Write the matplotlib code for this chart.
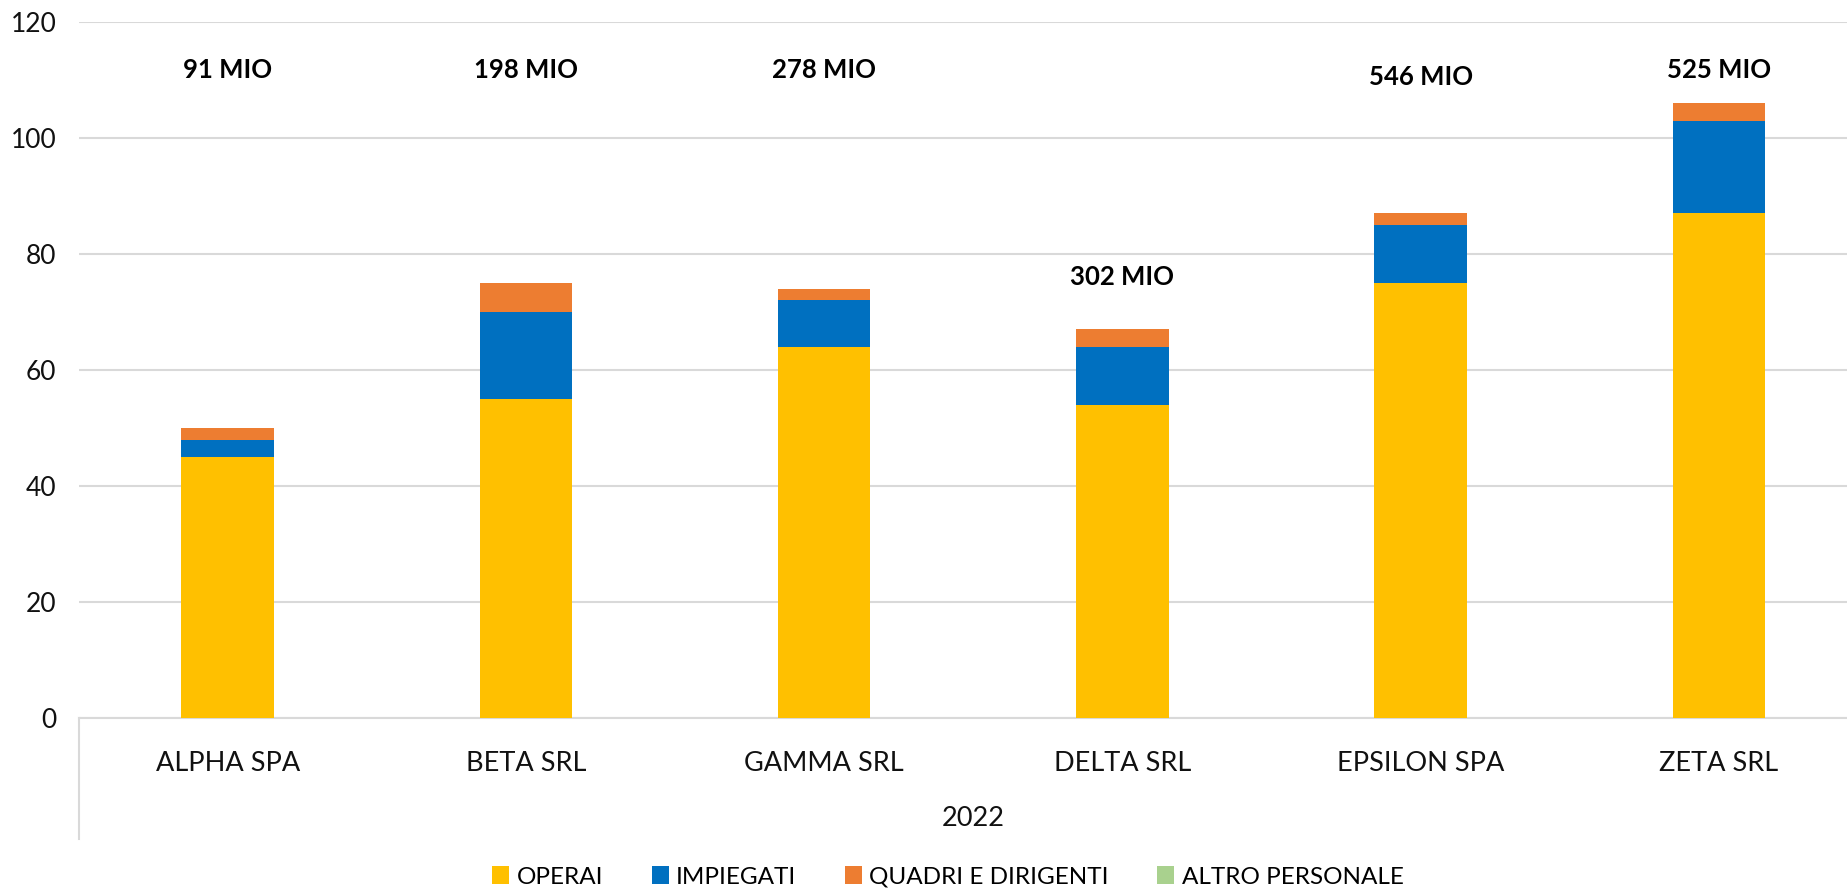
import numpy as np
import matplotlib
matplotlib.use("Agg")
import matplotlib.pyplot as plt
from matplotlib.lines import Line2D

plt.rcParams['font.family'] = ['Lato', 'DejaVu Sans']

# --- Data ---
companies = ["ALPHA SPA", "BETA SRL", "GAMMA SRL", "DELTA SRL", "EPSILON SPA", "ZETA SRL"]
operai = [45, 55, 64, 54, 75, 87]
impiegati = [3, 15, 8, 10, 10, 16]
quadri = [2, 5, 2, 3, 2, 3]
altro = [0, 0, 0, 0, 0, 0]
fatturato = ["91 MIO", "198 MIO", "278 MIO", "302 MIO", "546 MIO", "525 MIO"]
label_y = [111.7, 111.7, 111.7, 76, 110.5, 111.7]
year = "2022"

series = [
    ("OPERAI", operai, "#FFC000"),
    ("IMPIEGATI", impiegati, "#0070C0"),
    ("QUADRI E DIRIGENTI", quadri, "#ED7D31"),
    ("ALTRO PERSONALE", altro, "#A9D18E"),
]

W, H = 1847, 890
fig = plt.figure(figsize=(W / 100, H / 100), dpi=100)
# plot area (pixel coords from the reference); right side is cut off
left, right, top, bottom = 78.5, 1868, 22, 718
ax = fig.add_axes([left / W, 1 - bottom / H, (right - left) / W, (bottom - top) / H])

x = np.arange(len(companies))
base = np.zeros(len(companies))
handles = []
for name, vals, col in series:
    b = ax.bar(x, vals, width=0.31, bottom=base, color=col, label=name, zorder=3)
    handles.append(b)
    base += np.array(vals)

for i, txt in enumerate(fatturato):
    ax.text(x[i], label_y[i], txt, ha="center", va="center",
            fontsize=18.5, fontweight="bold", color="black", zorder=4)

ax.set_xlim(-0.5, len(companies) - 0.5)
ax.set_ylim(0, 120)
ax.set_yticks(np.arange(0, 121, 20))
ax.yaxis.grid(True, color="#D9D9D9", linewidth=1.5, zorder=0)
ax.set_axisbelow(True)
for s in ["top", "right", "left"]:
    ax.spines[s].set_visible(False)
ax.spines["bottom"].set_color("#D9D9D9")
ax.spines["bottom"].set_linewidth(1.5)
ax.tick_params(axis="y", length=0, labelsize=19, pad=16, labelcolor="#111111")
ax.set_xticks(x)
ax.set_xticklabels(companies)
ax.tick_params(axis="x", length=0, labelsize=19.5, pad=24, labelcolor="#111111")

# outer category level line and label
fig.add_artist(Line2D([left / W, left / W], [1 - bottom / H, 1 - 839 / H],
                      color="#D9D9D9", linewidth=1.5))
fig.text(973 / W, 1 - 818 / H, year, ha="center", va="center", fontsize=19.5, color="#111111")

fig.legend(handles=handles, loc="center", bbox_to_anchor=(948 / W, 1 - 877 / H),
           ncol=4, frameon=False, fontsize=17.5, handlelength=0.7, handleheight=0.7,
           handletextpad=0.3, columnspacing=2.0)

fig.savefig("out.png", dpi=100)
